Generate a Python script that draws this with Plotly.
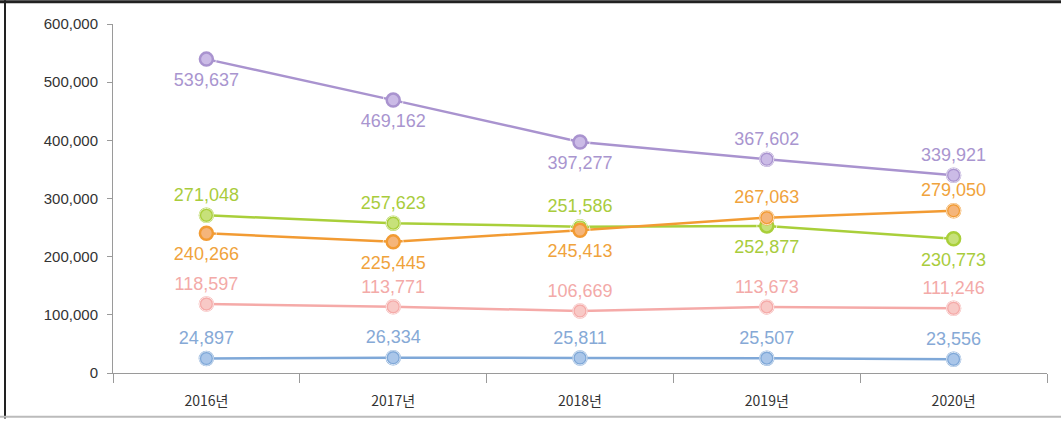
import plotly.graph_objects as go

years = ["2016년", "2017년", "2018년", "2019년", "2020년"]
purple_vals = [539637, 469162, 397277, 367602, 339921]
green_vals = [271048, 257623, 251586, 252877, 230773]
orange_vals = [240266, 225445, 245413, 267063, 279050]
pink_vals = [118597, 113771, 106669, 113673, 111246]
blue_vals = [24897, 26334, 25811, 25507, 23556]

series = [
    (purple_vals, "#a993cf", "#cbbbe6", "#a995cf",
     ["bottom center", "bottom center", "bottom center", "top center", "top center"]),
    (green_vals, "#a9cf3a", "#c7e17a", "#a9cc3c",
     ["top center", "top center", "top center", "bottom center", "bottom center"]),
    (orange_vals, "#f29b33", "#f5b57a", "#f0a33c",
     ["bottom center", "bottom center", "bottom center", "top center", "top center"]),
    (pink_vals, "#f5aaa8", "#f8c9c6", "#f3aaa8", ["top center"] * 5),
    (blue_vals, "#7fa8d8", "#aac6e9", "#86a9d6", ["top center"] * 5),
]

fig = go.Figure()
for vals, line_c, fill_c, text_c, pos in series:
    fig.add_trace(go.Scatter(
        x=years, y=vals, mode="lines+markers",
        line=dict(color=line_c, width=2.5),
        marker=dict(size=13, color=fill_c, line=dict(color=line_c, width=2.5)),
        cliponaxis=False, showlegend=False, hoverinfo="skip",
    ))
    fig.add_trace(go.Scatter(
        x=years, y=vals, mode="markers+text",
        marker=dict(size=[20 if p.startswith("bottom") else 14 for p in pos],
                    color="rgba(0,0,0,0)"),
        text=[f"{v:,}" for v in vals], textposition=pos,
        textfont=dict(family="Liberation Sans, Arial", size=18, color=text_c),
        cliponaxis=False, showlegend=False,
    ))

W, H = 1061, 422
L, R, T, B = 113, 14, 24, 46
pw, ph = W - L - R, H - T - B

def px(x):
    return (x - L) / pw

def py(y):
    return 1 - (y - T) / ph

fig.update_layout(
    width=W, height=H,
    margin=dict(l=L, r=R, t=T, b=B),
    paper_bgcolor="white", plot_bgcolor="white",
    xaxis=dict(
        range=[-0.5, 4.5],
        showgrid=False, showline=True, linecolor="#9a9a9a", linewidth=1,
        ticks="outside", tickson="boundaries", ticklen=9, tickcolor="#9a9a9a",
        tickfont=dict(family="Noto Sans CJK KR, Liberation Sans", size=14, color="#333333"),
        ticklabelstandoff=15,
    ),
    yaxis=dict(
        range=[0, 600000], dtick=100000, tickformat=",", showgrid=False,
        showline=True, linecolor="#9a9a9a", linewidth=1, zeroline=False,
        ticks="outside", ticklen=5, tickcolor="#9a9a9a",
        tickfont=dict(family="Liberation Sans, Arial", size=15, color="#333333"),
        ticklabelstandoff=6,
    ),
    shapes=[
        dict(type="line", xref="paper", yref="paper", x0=px(0), x1=px(W), y0=py(1.5), y1=py(1.5),
             line=dict(color="#222222", width=3)),
        dict(type="line", xref="paper", yref="paper", x0=px(5), x1=px(5), y0=py(0), y1=py(H),
             line=dict(color="#222222", width=2)),
        dict(type="line", xref="paper", yref="paper", x0=px(0), x1=px(W), y0=py(420), y1=py(420),
             line=dict(color="#bbbbbb", width=2)),
    ],
)

fig.write_html(
    "out.html",
    config={"displayModeBar": False},
    post_script="document.body.style.margin='0';document.body.style.overflow='hidden';",
)
